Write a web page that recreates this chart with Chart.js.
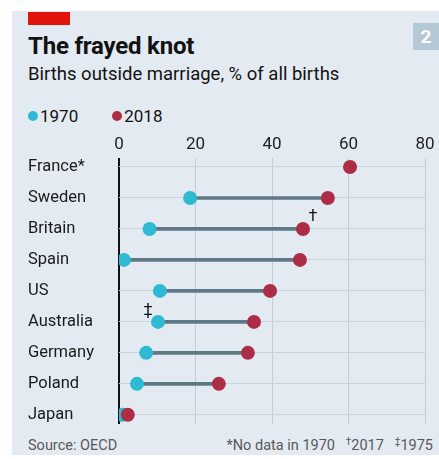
<!DOCTYPE html>
<html lang="en">
<head>
  <meta charset="UTF-8" />
  <title>The frayed knot</title>
  <script src="https://cdn.jsdelivr.net/npm/chart.js"></script>
  <style>
    body { margin: 0; width: 439px; height: 459px; background: #fff; position: relative; overflow: hidden; font-family: Roboto, sans-serif; color: #121212; }
    .panel { position: absolute; left: 12px; top: 11px; right: 0; height: 444px; background: #e3eaf1; }
    .redbar { position: absolute; left: 28px; top: 12px; width: 42px; height: 13px; background: #e3120b; }
    .num { position: absolute; left: 413px; top: 23px; width: 26px; height: 27px; background: #b5c8d6; color: #fff; font-weight: bold; font-size: 19px; line-height: 27px; text-align: center; }
    h1 { position: absolute; left: 28px; top: 32px; margin: 0; font-size: 24px; font-weight: 700; letter-spacing: -0.2px; }
    .sub { position: absolute; left: 28px; top: 63px; font-size: 18.5px; }
    .legend { position: absolute; left: 28px; top: 106px; font-size: 17px; display: flex; gap: 34px; }
    .legend span { display: flex; align-items: center; }
    .legend i { width: 10px; height: 10px; border-radius: 50%; display: inline-block; margin-right: 2px; }
    .chart { position: absolute; left: 0; top: 130px; width: 439px; height: 304px; }
    .foot { position: absolute; top: 437px; font-size: 14.5px; color: #595959; }
    .foot sup { font-size: 10px; vertical-align: 5px; line-height: 0; }
  </style>
</head>
<body>
  <div class="panel"></div>
  <div class="redbar"></div>
  <div class="num">2</div>
  <h1>The frayed knot</h1>
  <div class="sub">Births outside marriage, % of all births</div>
  <div class="legend">
    <span><i style="background:#2fbad4"></i>1970</span>
    <span><i style="background:#ad2d47"></i>2018</span>
  </div>
  <div class="chart"><canvas id="grafico"></canvas></div>
  <div class="foot" style="left:28px">Source: OECD</div>
  <div class="foot" style="right:6px">*No data in 1970&nbsp;&nbsp;&nbsp;<sup>†</sup>2017&nbsp;&nbsp;&nbsp;<sup>‡</sup>1975</div>

  <script>
    const paises = ['France*', 'Sweden', 'Britain', 'Spain', 'US', 'Australia', 'Germany', 'Poland', 'Japan'];
    const v1970 = [null, 18.6, 8.0, 1.3, 10.7, 10.2, 7.1, 4.7, 0.9];
    const v2018 = [60.4, 54.6, 48.1, 47.3, 39.5, 35.3, 33.7, 26.1, 2.3];
    const marcas = ['', '', '†', '', '', '‡', '', '', ''];
    const ticksX = [0, 20, 40, 60, 80];

    const cian = '#2fbad4';
    const granate = '#ad2d47';

    // daggers next to the dots
    const notas = {
      id: 'notas',
      afterDatasetsDraw(chart) {
        const { ctx, scales: { x, y } } = chart;
        ctx.save();
        ctx.font = '16px Roboto';
        ctx.fillStyle = '#111';
        ctx.textAlign = 'center';
        ctx.textBaseline = 'middle';
        marcas.forEach((m, i) => {
          if (!m) return;
          if (m === '†') ctx.fillText(m, x.getPixelForValue(v2018[i]) + 10, y.getPixelForValue(i) - 12);
          else ctx.fillText(m, x.getPixelForValue(v1970[i]) - 10, y.getPixelForValue(i) - 11);
        });
        ctx.restore();
      }
    };

    new Chart(document.getElementById('grafico'), {
      data: {
        datasets: [
          {
            type: 'bar',
            data: paises.map((p, i) => ({ y: i, x: v1970[i] === null ? null : [v1970[i], v2018[i]] })),
            backgroundColor: '#5f7886',
            barThickness: 3,
            order: 3
          },
          {
            type: 'line',
            label: '1970',
            data: paises.map((p, i) => ({ y: i, x: v1970[i] })),
            showLine: false,
            pointRadius: 7,
            pointBackgroundColor: cian,
            pointBorderWidth: 0,
            order: 2
          },
          {
            type: 'line',
            label: '2018',
            data: paises.map((p, i) => ({ y: i, x: v2018[i] })),
            showLine: false,
            pointRadius: 7,
            pointBackgroundColor: granate,
            pointBorderWidth: 0,
            order: 1
          }
        ]
      },
      options: {
        indexAxis: 'y',
        responsive: true,
        maintainAspectRatio: false,
        animation: false,
        layout: { padding: { left: 28, right: 14, top: 0, bottom: 0 } },
        plugins: { legend: { display: false }, tooltip: { enabled: false } },
        scales: {
          x: {
            type: 'linear',
            position: 'top',
            min: 0,
            max: 80,
            afterBuildTicks: s => { s.ticks = ticksX.map(v => ({ value: v })); },
            afterFit: s => { s.height = 27.7; },
            border: { display: false },
            grid: {
              drawTicks: false,
              color: c => c.tick && c.tick.value === 0 ? '#111' : '#c4cdd5',
              lineWidth: c => c.tick && c.tick.value === 0 ? 2 : 1
            },
            ticks: { padding: 3, color: '#222', font: { family: 'Roboto', size: 17 } }
          },
          y: {
            type: 'linear',
            reverse: true,
            offset: false,
            min: -0.3,
            max: 8.3,
            afterBuildTicks: s => { s.ticks = paises.map((p, i) => ({ value: i })); },
            afterFit: s => { s.width = 91; },
            border: { display: false },
            grid: { offset: false, drawTicks: false, color: '#cbd3db', lineWidth: 1 },
            ticks: {
              crossAlign: 'far',
              padding: 0,
              color: '#1a1a1a',
              font: { family: 'Roboto', size: 16.5 },
              callback: v => paises[v]
            }
          }
        }
      },
      plugins: [notas]
    });
  </script>
</body>
</html>
